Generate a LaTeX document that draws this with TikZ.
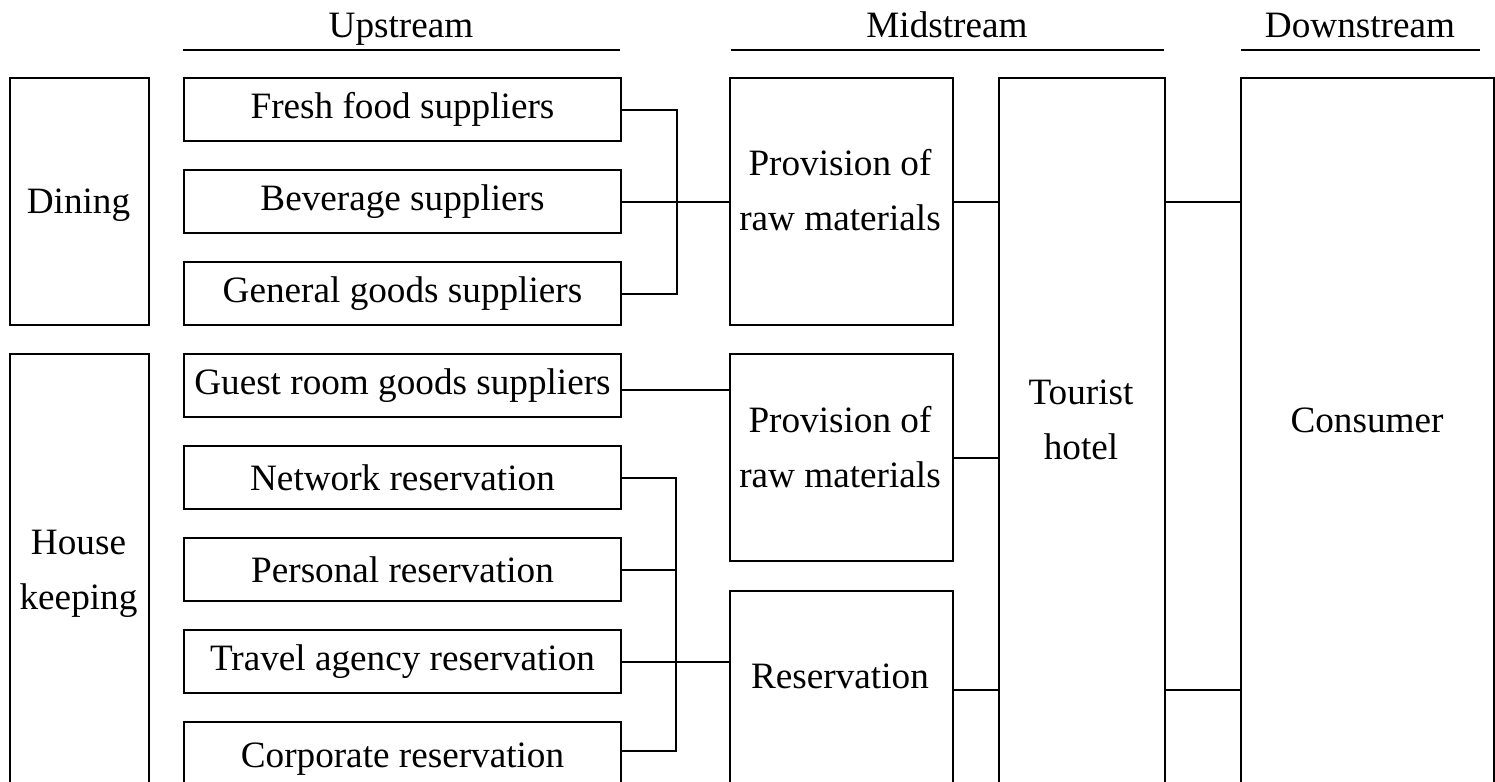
\documentclass[tikz,border=0pt]{standalone}
\usepackage{fontspec}
\setmainfont{Liberation Serif}
\begin{document}
\begin{tikzpicture}[x=0.5pt,y=-0.5pt,
  box/.style={draw, line width=1pt, inner sep=0pt, anchor=north west, align=center,
    font=\fontsize{18.6}{27.5}\selectfont},
  ubox/.style={box, minimum width=218.5pt, minimum height=31.5pt},
  txt/.style={inner sep=0pt, align=center, font=\fontsize{18.6}{27.5}\selectfont},
  conn/.style={line width=1pt},
  hline/.style={line width=1pt}]
\useasboundingbox (0,0) rectangle (1495,782);
\clip (0,0) rectangle (1495,782);

% headers
\node[txt, anchor=base] (hup) at (401,37) {Upstream};
\node[txt, anchor=base] (hmid) at (947,37) {Midstream};
\node[txt, anchor=base] (hdown) at (1360,37) {Downstream};
\draw[hline] (183,50) -- (620,50);
\draw[hline] (731,50) -- (1164,50);
\draw[hline] (1241,50) -- (1480,50);

% left category boxes
\node[box, minimum width=69.5pt, minimum height=123.5pt] (dining) at (9,77) {};
\node[txt, anchor=base] (diningt) at (78.5,213) {Dining};
\node[box, minimum width=69.5pt, minimum height=240pt] (house) at (9,353) {};
\node[txt, anchor=center] (houset) at (78.5,574) {House\\keeping};

% upstream boxes
\node[ubox] (fresh) at (183,77) {Fresh food suppliers};
\node[ubox] (bev) at (183,169) {Beverage suppliers};
\node[ubox] (gen) at (183,261) {General goods suppliers};
\node[ubox] (guest) at (183,353) {Guest room goods suppliers};
\node[ubox] (net) at (183,445) {Network reservation};
\node[ubox] (pers) at (183,537) {Personal reservation};
\node[ubox] (trav) at (183,629) {Travel agency reservation};
\node[ubox, minimum height=37.5pt] (corp) at (183,721) {Corporate reservation};

% midstream boxes
\node[box, minimum width=111.5pt, minimum height=123.5pt] (prov1) at (729,77) {};
\node[txt, anchor=center] (prov1t) at (840,190) {Provision of\\raw materials};
\node[box, minimum width=111.5pt, minimum height=103.5pt] (prov2) at (729,353) {};
\node[txt, anchor=center] (prov2t) at (840,447) {Provision of\\raw materials};
\node[box, minimum width=111.5pt, minimum height=120pt] (res) at (729,590) {};
\node[txt, anchor=base] (rest) at (840,688) {Reservation};
\node[box, minimum width=83pt, minimum height=380pt] (hotel) at (998,77) {};
\node[txt, anchor=center] (hotelt) at (1081,420) {Tourist\\hotel};

% downstream
\node[box, minimum width=126.5pt, minimum height=380pt] (cons) at (1240,77) {};
\node[txt, anchor=base] (const) at (1367,432) {Consumer};

% connectors
\coordinate (b1) at (677,0);
\coordinate (b2) at (676,0);
\coordinate (rh) at (0,690);
\coordinate (cl) at ([yshift=4.25pt]corp.east);
\draw[conn] (fresh.east) -| (b1 |- gen.east) -- (gen.east);
\draw[conn] (bev.east) -- (bev.east -| prov1.west);
\draw[conn] (prov1.east) -- (prov1.east -| hotel.west);
\draw[conn] (hotel.east |- prov1.east) -- (cons.west |- prov1.east);
\draw[conn] ([yshift=-2pt]guest.east) -- ([yshift=-2pt]guest.east -| prov2.west);
\draw[conn] (prov2.east) -- (prov2.east -| hotel.west);
\draw[conn] (net.east) -| (b2 |- cl) -- (cl);
\draw[conn] (pers.east) -- (pers.east -| b2);
\draw[conn] (trav.east) -- (trav.east -| res.west);
\draw[conn] (res.east |- rh) -- (hotel.west |- rh);
\draw[conn] (hotel.east |- rh) -- (cons.west |- rh);
\end{tikzpicture}
\end{document}
